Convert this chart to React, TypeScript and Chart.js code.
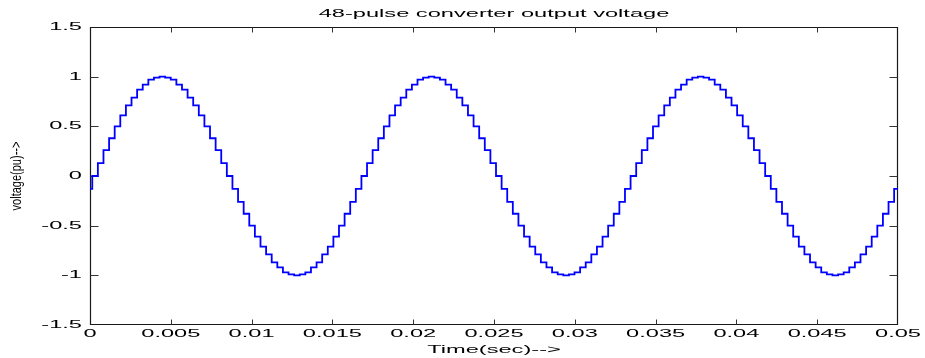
import React, { useEffect, useRef } from 'react';
import { Chart, registerables } from 'chart.js';

Chart.register(...registerables);

// ---- text ----
const TITLE = '48-pulse converter output voltage';
const X_LABEL = 'Time(sec)-->';
const Y_LABEL = 'voltage(pu)-->';

// ---- axes ----
const X_MIN = 0;
const X_MAX = 0.05;
const Y_MIN = -1.5;
const Y_MAX = 1.5;
const X_TICKS = [0, 0.005, 0.01, 0.015, 0.02, 0.025, 0.03, 0.035, 0.04, 0.045, 0.05];
const X_TICK_LABELS = ['0', '0.005', '0.01', '0.015', '0.02', '0.025', '0.03', '0.035', '0.04', '0.045', '0.05'];
const Y_TICKS = [-1.5, -1, -0.5, 0, 0.5, 1, 1.5];
const Y_TICK_LABELS = ['-1.5', '-1', '-0.5', '0', '0.5', '1', '1.5'];

// ---- staircase series ----
const INITIAL_LEVEL = -0.13; // level from t = 0 until the first step edge
const FIRST_STEP_TIME = 0.00014; // time of first step edge (s)
const STEP_DURATION = 0.000347; // width of one stair step (s)
const CYCLE_1_LEVELS = [
  0, 0.13, 0.26, 0.38, 0.5, 0.61, 0.71, 0.79, 0.87, 0.92, 0.97, 0.99,
  1, 0.99, 0.97, 0.92, 0.87, 0.79, 0.71, 0.61, 0.5, 0.38, 0.26, 0.13,
  0, -0.13, -0.26, -0.38, -0.5, -0.61, -0.71, -0.79, -0.87, -0.92, -0.97, -0.99,
  -1, -0.99, -0.97, -0.92, -0.87, -0.79, -0.71, -0.61, -0.5, -0.38, -0.26, -0.13,
];
const CYCLE_2_LEVELS = [
  0, 0.13, 0.26, 0.38, 0.5, 0.61, 0.71, 0.79, 0.87, 0.92, 0.97, 0.99,
  1, 0.99, 0.97, 0.92, 0.87, 0.79, 0.71, 0.61, 0.5, 0.38, 0.26, 0.13,
  0, -0.13, -0.26, -0.38, -0.5, -0.61, -0.71, -0.79, -0.87, -0.92, -0.97, -0.99,
  -1, -0.99, -0.97, -0.92, -0.87, -0.79, -0.71, -0.61, -0.5, -0.38, -0.26, -0.13,
];
const CYCLE_3_LEVELS = [
  0, 0.13, 0.26, 0.38, 0.5, 0.61, 0.71, 0.79, 0.87, 0.92, 0.97, 0.99,
  1, 0.99, 0.97, 0.92, 0.87, 0.79, 0.71, 0.61, 0.5, 0.38, 0.26, 0.13,
  0, -0.13, -0.26, -0.38, -0.5, -0.61, -0.71, -0.79, -0.87, -0.92, -0.97, -0.99,
  -1, -0.99, -0.97, -0.92, -0.87, -0.79, -0.71, -0.61, -0.5, -0.38, -0.26, -0.13,
];

const FONT_FAMILY = "'Liberation Sans', Arial, Helvetica, sans-serif";
const TEXT_STRETCH = 2.25;
const ROTATED_TEXT_THICKEN = 1.4;

function buildPoints() {
  const levels = [...CYCLE_1_LEVELS, ...CYCLE_2_LEVELS, ...CYCLE_3_LEVELS];
  const pts: { x: number; y: number }[] = [{ x: X_MIN, y: INITIAL_LEVEL }];
  levels.forEach((v, i) => {
    pts.push({ x: FIRST_STEP_TIME + i * STEP_DURATION, y: v });
  });
  pts.push({ x: X_MAX, y: levels[levels.length - 1] });
  return pts;
}

const frameTicksPlugin = {
  id: 'frameTicks',
  beforeDatasetsDraw(chart: any) {
    const { ctx, chartArea, scales } = chart;
    const l = Math.round(chartArea.left) + 0.5;
    const r = Math.round(chartArea.right) - 0.5;
    const t = Math.round(chartArea.top) + 0.5;
    const b = Math.round(chartArea.bottom) - 0.5;
    ctx.save();
    ctx.strokeStyle = '#1a1a1a';
    ctx.lineWidth = 1.2;
    ctx.beginPath();
    ctx.rect(l, t, r - l, b - t);
    ctx.stroke();
    ctx.lineWidth = 1;
    ctx.strokeStyle = '#333';
    ctx.beginPath();
    X_TICKS.forEach((v) => {
      const px = Math.round(scales.x.getPixelForValue(v)) + 0.5;
      if (px <= l + 1 || px >= r - 1) return;
      ctx.moveTo(px, b);
      ctx.lineTo(px, b - 5);
      ctx.moveTo(px, t);
      ctx.lineTo(px, t + 5);
    });
    Y_TICKS.forEach((v) => {
      const py = Math.round(scales.y.getPixelForValue(v)) + 0.5;
      if (py <= t + 1 || py >= b - 1) return;
      ctx.moveTo(l, py);
      ctx.lineTo(l + 8, py);
      ctx.moveTo(r, py);
      ctx.lineTo(r - 8, py);
    });
    ctx.stroke();
    ctx.restore();
  },
};

export default function App() {
  const canvasRef = useRef<HTMLCanvasElement | null>(null);

  useEffect(() => {
    document.body.style.margin = '0';
    const canvas = canvasRef.current;
    if (!canvas) return;
    const ctx = canvas.getContext('2d') as any;
    const origFillText = ctx.fillText.bind(ctx);
    ctx.fillText = (text: string, x: number, y: number, maxWidth?: number) => {
      const m = ctx.getTransform();
      const rotated = Math.abs(m.b) > 1e-6 || Math.abs(m.c) > 1e-6;
      ctx.save();
      ctx.translate(x, y);
      if (rotated) ctx.scale(1, ROTATED_TEXT_THICKEN);
      else ctx.scale(TEXT_STRETCH, 1);
      if (maxWidth === undefined) origFillText(text, 0, 0);
      else origFillText(text, 0, 0, rotated ? maxWidth : maxWidth / TEXT_STRETCH);
      ctx.restore();
    };

    const font = { family: FONT_FAMILY, size: 10.5, weight: 'normal' as const, lineHeight: 1.2 };

    const chart = new Chart(canvas, {
      type: 'line',
      data: {
        datasets: [
          {
            data: buildPoints(),
            borderColor: '#0000ff',
            borderWidth: 1.8,
            pointRadius: 0,
            stepped: 'before',
            fill: false,
            tension: 0,
          },
        ],
      },
      plugins: [frameTicksPlugin],
      options: {
        responsive: false,
        devicePixelRatio: 1,
        animation: false,
        parsing: false,
        normalized: true,
        layout: { padding: { left: 0, right: 27, top: 0, bottom: 0 } },
        plugins: {
          legend: { display: false },
          tooltip: { enabled: false },
          title: {
            display: true,
            fullSize: false,
            text: TITLE,
            color: '#000',
            font,
            padding: { top: 7.5, bottom: 6.9 },
          },
        },
        scales: {
          x: {
            type: 'linear',
            position: 'bottom',
            min: X_MIN,
            max: X_MAX,
            afterBuildTicks: (s: any) => {
              s.ticks = X_TICKS.map((v) => ({ value: v }));
            },
            afterFit: (s: any) => {
              s.height = 33;
            },
            ticks: {
              autoSkip: false,
              maxRotation: 0,
              minRotation: 0,
              padding: 3,
              color: '#000',
              font,
              callback: (_v: any, i: number) => X_TICK_LABELS[i],
            },
            grid: { display: false, drawTicks: false },
            border: { display: false },
            title: {
              display: true,
              text: X_LABEL,
              color: '#000',
              font,
              padding: { top: 0, bottom: 2 },
            },
          },
          y: {
            type: 'linear',
            position: 'left',
            min: Y_MIN,
            max: Y_MAX,
            afterBuildTicks: (s: any) => {
              s.ticks = Y_TICKS.map((v) => ({ value: v }));
            },
            afterFit: (s: any) => {
              s.width = 90;
            },
            ticks: {
              autoSkip: false,
              padding: 8,
              color: '#000',
              font,
              callback: (_v: any, i: number) => Y_TICK_LABELS[i],
            },
            grid: { display: false, drawTicks: false },
            border: { display: false },
            title: {
              display: true,
              text: Y_LABEL,
              color: '#000',
              font: { ...font, size: 11 },
              padding: { top: 10.5, bottom: 0 },
            },
          },
        },
      } as any,
    });

    return () => {
      chart.destroy();
    };
  }, []);

  return (
    <canvas
      ref={canvasRef}
      width={925}
      height={358}
      style={{ display: 'block', width: 925, height: 358 }}
    />
  );
}
